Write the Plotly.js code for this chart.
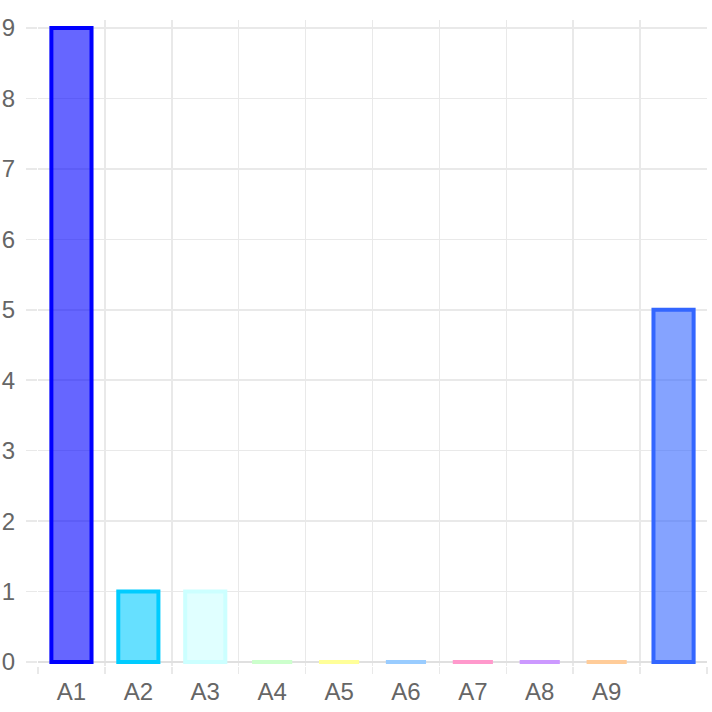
<!DOCTYPE html>
<html>
<head>
<meta charset="utf-8">
<script src="https://cdn.plot.ly/plotly-3.0.1.min.js"></script>
<style>html,body{margin:0;padding:0;background:#fff;}#chart{width:712px;height:712px;}</style>
</head>
<body>
<div id="chart"></div>
<script>
const categories = ['A1','A2','A3','A4','A5','A6','A7','A8','A9','A10'];
const tickLabels = ['A1','A2','A3','A4','A5','A6','A7','A8','A9',''];
const values = [9, 1, 1, 0, 0, 0, 0, 0, 0, 5];
const borderColors = ['#0000ff','#00ccff','#ccffff','#ccffcc','#ffff99','#99ccff','#ff99cc','#cc99ff','#ffcc99','#3366ff'];
const yTicks = [0,1,2,3,4,5,6,7,8,9];

function hexToRgba(h, a) {
  const n = parseInt(h.slice(1), 16);
  return 'rgba(' + ((n >> 16) & 255) + ',' + ((n >> 8) & 255) + ',' + (n & 255) + ',' + a + ')';
}
const fillColors = borderColors.map(c => hexToRgba(c, 0.6));
// zero values get a tiny height so their outline is drawn, as in the reference
const shownValues = values.map(v => v === 0 ? 1e-4 : v);

const trace = {
  type: 'bar',
  x: categories,
  y: shownValues,
  marker: { color: fillColors, line: { color: borderColors, width: 4 } },
  hoverinfo: 'none'
};

const gridColor = '#e9e9e9';
const layout = {
  width: 712, height: 712,
  margin: { l: 38, r: 5, t: 20, b: 46 },
  paper_bgcolor: '#fff', plot_bgcolor: '#fff',
  showlegend: false,
  bargap: 0.4,
  font: { family: 'Liberation Sans, Arial, sans-serif', color: '#666' },
  xaxis: {
    type: 'category',
    tickmode: 'array', tickvals: categories, ticktext: tickLabels,
    tickson: 'boundaries',
    showgrid: true, gridcolor: gridColor, gridwidth: 1.5,
    ticks: 'outside', ticklen: 7, tickcolor: gridColor, tickwidth: 1.5,
    tickfont: { size: 24, color: '#666' },
    ticklabelstandoff: 9,
    showline: false, zeroline: false, fixedrange: true
  },
  yaxis: {
    range: [-0.057, 9.114],
    tickmode: 'array', tickvals: yTicks,
    showgrid: true, gridcolor: gridColor, gridwidth: 1.5,
    ticks: 'outside', ticklen: 11, tickcolor: gridColor, tickwidth: 1.5,
    tickfont: { size: 24, color: '#666' },
    ticklabelstandoff: 6,
    zeroline: true, zerolinecolor: '#e0e0e0', zerolinewidth: 1.5,
    showline: false, fixedrange: true
  }
};

Plotly.newPlot('chart', [trace], layout, { staticPlot: true, displayModeBar: false });
</script>
</body>
</html>
